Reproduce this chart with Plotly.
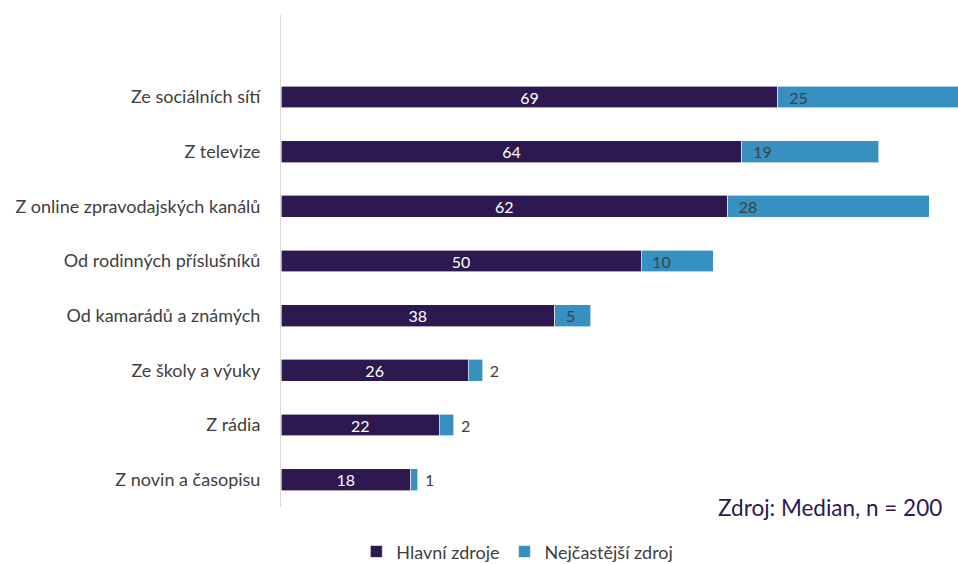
import plotly.graph_objects as go

categories = ["Ze sociálních sítí", "Z televize", "Z online zpravodajských kanálů",
              "Od rodinných příslušníků", "Od kamarádů a známých", "Ze školy a výuky",
              "Z rádia", "Z novin a časopisu"]
hlavni = [69, 64, 62, 50, 38, 26, 22, 18]
nejcastejsi = [25, 19, 28, 10, 5, 2, 2, 1]
series_names = ["Hlavní zdroje", "Nejčastější zdroj"]
source_note = "Zdroj: Median, n = 200"

PURPLE = "#2D1950"
BLUE = "#3691C1"
FONT = "Lato"
NB = "\u00a0"

blue_pos = ["inside" if v >= 5 else "outside" for v in nejcastejsi]
blue_text = [(NB * 2 + str(v)) if p == "inside" else (NB + str(v))
             for v, p in zip(nejcastejsi, blue_pos)]

fig = go.Figure()
fig.add_trace(go.Bar(
    y=categories, x=hlavni, orientation="h", name=series_names[0],
    marker=dict(color=PURPLE, line=dict(color="#FFFFFF", width=0.6)),
    width=0.4, text=hlavni, textposition="inside", insidetextanchor="middle",
    textangle=0, textfont=dict(color="white", size=16, family=FONT), constraintext="none",
))
fig.add_trace(go.Bar(
    y=categories, x=nejcastejsi, orientation="h", name=series_names[1],
    marker=dict(color=BLUE, line=dict(color="#FFFFFF", width=0.6)),
    width=0.4, text=blue_text, textposition=blue_pos, insidetextanchor="start",
    textangle=0, textfont=dict(color="#404040", size=16, family=FONT), constraintext="none",
    cliponaxis=False,
))

fig.update_layout(
    autosize=False,
    barmode="stack",
    width=958, height=564,
    margin=dict(l=281, r=0, t=15, b=57, autoexpand=False),
    plot_bgcolor="white", paper_bgcolor="white",
    font=dict(family=FONT, size=15, color="#404040"),
    xaxis=dict(range=[0, 94], visible=False, showgrid=False, zeroline=False,
               automargin=False),
    yaxis=dict(categoryorder="array", categoryarray=categories[::-1],
               range=[-0.5, 8.5], showline=True, linecolor="#D9D9D9", linewidth=1,
               showgrid=False, zeroline=False, ticks="", ticklabelstandoff=16,
               automargin=False,
               tickfont=dict(family=FONT, size=18, color="#404040")),
    legend=dict(orientation="h", xref="container", yref="paper",
                x=0.54, xanchor="center", y=-0.091, yanchor="middle",
                font=dict(family=FONT, size=18, color="#404040"),
                traceorder="normal", itemwidth=30),
    uniformtext=dict(mode=False),
    annotations=[dict(text=source_note, xref="paper", yref="paper",
                      x=0.979, y=0.0, xanchor="right", yanchor="middle", showarrow=False,
                      font=dict(family=FONT, size=22.5, color=PURPLE))],
)

fig.write_html("out.html", config={"displayModeBar": False},
               post_script="document.body.style.margin='0';document.body.style.overflow='hidden';")
